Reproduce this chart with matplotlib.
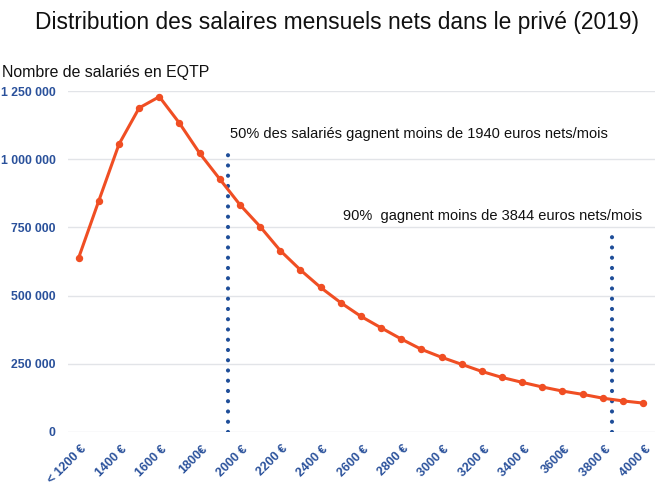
import matplotlib
matplotlib.use("Agg")
import matplotlib.pyplot as plt
import matplotlib.transforms as mtransforms
from matplotlib.ticker import FixedLocator, FuncFormatter

# salary brackets (euros nets/mois), 100 EUR steps, first is "< 1200"
salaires = list(range(1200, 4001, 100))
effectifs = [639000, 848000, 1055000, 1188000, 1229000, 1132000, 1022000, 927000,
             833000, 753000, 665000, 594000, 530000, 474000, 424000, 382000,
             341000, 303000, 274000, 248000, 222000, 200000, 182000, 165000,
             150000, 138000, 124000, 114000, 106000]

tick_salaires = list(range(1200, 4001, 200))
tick_labels = ["< 1200 €", "1400 €", "1600 €", "1800€", "2000 €", "2200 €", "2400 €",
               "2600 €", "2800 €", "3000 €", "3200 €", "3400 €", "3600€", "3800 €", "4000 €"]

y_ticks = [0, 250000, 500000, 750000, 1000000, 1250000]

mediane = 1940
decile9 = 3844
mediane_haut = 1040000
decile9_haut = 737000

ORANGE = "#f04e23"
BLEU = "#1f4e99"
BLEU_TXT = "#2a519b"

plt.rcParams['font.family'] = ['Liberation Sans', 'DejaVu Sans']


def pos(s):
    # category position: one slot per 100 euros
    return (s - 1200) / 100


fig = plt.figure(figsize=(6.57, 5.0), dpi=100)
ax = fig.add_axes([68 / 657, 1 - 432 / 500, (655 - 68) / 657, (432 - 91) / 500])

x = [pos(s) for s in salaires]
ax.plot(x, effectifs, color=ORANGE, lw=2.2, marker='o', ms=4.3, zorder=3)

for val, haut in [(mediane, mediane_haut), (decile9, decile9_haut)]:
    ax.plot([pos(val)] * 2, [0, haut], color=BLEU, lw=3.0,
            linestyle=(0, (0.01, 2.45)), dash_capstyle='round', zorder=2)

ax.text(pos(mediane) + 0.1, 1092000,
        "50% des salariés gagnent moins de 1940 euros nets/mois",
        fontsize=10.5, va='center', ha='left', color='#111111')
ax.text(13.1, 792000, "90%  gagnent moins de 3844 euros nets/mois",
        fontsize=10.5, va='center', ha='left', color='#111111')

ax.set_xlim(-0.53, 28.59)
ax.set_ylim(0, 1250000)

ax.yaxis.set_major_locator(FixedLocator(y_ticks))
ax.yaxis.set_major_formatter(FuncFormatter(lambda v, p: f"{int(v):,}".replace(",", " ")))
ax.set_xticks([pos(s) for s in tick_salaires])
ax.set_xticklabels(tick_labels, rotation=45, ha='right', va='center',
                   rotation_mode='anchor')

ax.tick_params(axis='both', length=0, labelcolor=BLEU_TXT)
ax.tick_params(axis='y', pad=9, labelsize=8.8)
ax.tick_params(axis='x', pad=11, labelsize=9)
shift = mtransforms.ScaledTranslation(6 / 100, 0, fig.dpi_scale_trans)
for lab in ax.get_xticklabels():
    lab.set_fontweight('bold')
    lab.set_transform(lab.get_transform() + shift)
for lab in ax.get_yticklabels():
    lab.set_fontweight('bold')

ax.grid(axis='y', color='#e2e4e8', lw=1)
ax.set_axisbelow(True)
for sp in ax.spines.values():
    sp.set_visible(False)

fig.text(337 / 657, 1 - 22 / 500, "Distribution des salaires mensuels nets dans le privé (2019)",
         fontsize=16.4, ha='center', va='center', color='#111111')
fig.text(2 / 657, 1 - 73 / 500, "Nombre de salariés en EQTP",
         fontsize=11.4, ha='left', va='center', color='#111111')

fig.savefig("out.png", dpi=100)
